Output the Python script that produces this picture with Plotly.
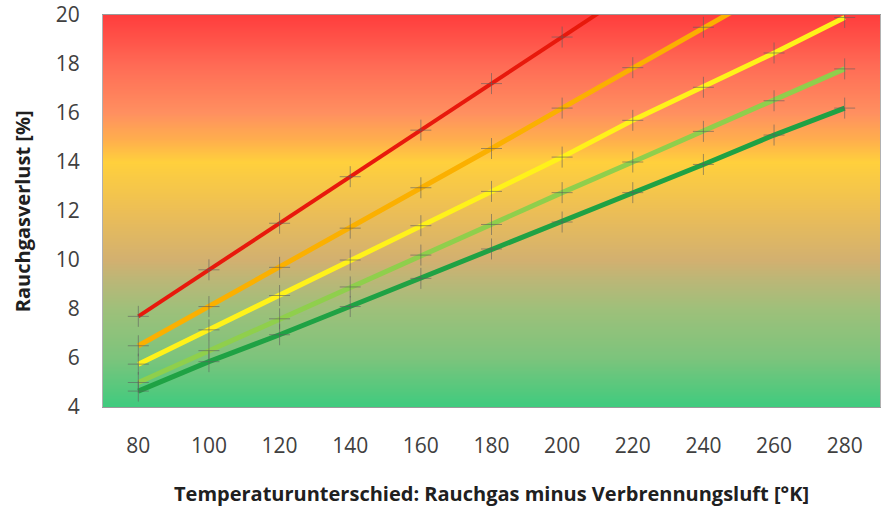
import numpy as np
import plotly.graph_objs as go

# temperature difference flue gas minus combustion air [K]
temp_diff = [80, 100, 120, 140, 160, 180, 200, 220, 240, 260, 280]

# flue gas loss [%] per curve
loss_red = [7.7, 9.6, 11.5, 13.4, 15.3, 17.2, 19.1, 21.0]
loss_orange = [6.5, 8.1, 9.7, 11.3, 12.95, 14.55, 16.2, 17.85, 19.5, 21.1]
loss_yellow = [5.75, 7.15, 8.55, 10.0, 11.4, 12.8, 14.2, 15.7, 17.05, 18.45, 19.9]
loss_lightgreen = [5.0, 6.3, 7.6, 8.9, 10.2, 11.45, 12.75, 14.0, 15.25, 16.5, 17.8]
loss_darkgreen = [4.65, 5.85, 6.95, 8.1, 9.25, 10.45, 11.55, 12.75, 13.9, 15.1, 16.2]

y_ticks = [4, 6, 8, 10, 12, 14, 16, 18, 20]

x_title = 'Temperaturunterschied: Rauchgas minus Verbrennungsluft [°K]'
y_title = 'Rauchgasverlust [%]'

# background colour stops (value on y axis -> colour)
bg_stops = [
    (4.0, '#3ecb7e'),
    (6.0, '#7cc47c'),
    (8.0, '#9ec07a'),
    (9.0, '#b6b878'),
    (10.0, '#d2b070'),
    (12.0, '#ecbe56'),
    (14.0, '#ffd03c'),
    (15.0, '#ffac4e'),
    (16.0, '#ff9060'),
    (18.0, '#ff6a55'),
    (20.0, '#ff3d3d'),
]


def background_trace():
    levels = np.arange(3.0, 21.01, 0.25)
    z = [[v, v] for v in levels]
    scale = [[(v - 4.0) / 16.0, c] for v, c in bg_stops]
    return go.Heatmap(x=[60, 300], y=levels, z=z, zmin=4, zmax=20,
                      colorscale=scale, showscale=False, zsmooth='best',
                      hoverinfo='skip')


def curve(y_values, color, width):
    return go.Scatter(x=temp_diff[:len(y_values)], y=y_values, mode='lines+markers',
                      line={'color': color, 'width': width},
                      marker={'symbol': 'cross-thin', 'size': 15,
                              'line': {'color': 'rgba(95,95,95,0.6)', 'width': 1}},
                      showlegend=False)


def create_layout():
    font = 'Open Sans, Lato, sans-serif'
    grid = 'rgba(115,95,75,0.55)'
    title_font = {'size': 20, 'color': '#202020', 'family': font}
    layout = go.Layout(
        width=884, height=508,
        margin={'l': 103, 'r': 4, 't': 15, 'b': 101, 'autoexpand': False},
        paper_bgcolor='white', plot_bgcolor='white',
        font={'family': font, 'color': '#404040'},
        xaxis={'range': [70, 290], 'tickvals': temp_diff, 'showgrid': False,
               'zeroline': False, 'tickfont': {'size': 21, 'color': '#404040'},
               'ticklabelstandoff': 20, 'showline': True, 'linecolor': '#9a9a9a',
               'mirror': True, 'automargin': False},
        yaxis={'range': [4, 20], 'tickvals': y_ticks, 'showgrid': True,
               'gridcolor': grid, 'gridwidth': 1, 'zeroline': False,
               'tickfont': {'size': 21, 'color': '#404040'},
               'ticklabelstandoff': 18, 'showline': True, 'linecolor': '#b0b0b0',
               'mirror': True, 'automargin': False, 'ticklabeloverflow': 'allow'},
        annotations=[
            {'text': '<b>' + x_title + '</b>', 'xref': 'paper', 'yref': 'paper',
             'x': 0.5, 'y': -0.22, 'yanchor': 'middle', 'showarrow': False,
             'font': title_font},
            {'text': '<b>' + y_title + '</b>', 'xref': 'paper', 'yref': 'paper',
             'x': -0.104, 'y': 0.5, 'xanchor': 'center', 'yanchor': 'middle',
             'textangle': -90, 'showarrow': False, 'font': title_font},
        ],
    )
    return layout


def main():
    data = [background_trace(),
            curve(loss_red, '#e8190c', 4),
            curve(loss_orange, '#fbb000', 5),
            curve(loss_yellow, '#fff21a', 5),
            curve(loss_lightgreen, '#8fcf4c', 5),
            curve(loss_darkgreen, '#1fa244', 5)]
    fig = go.Figure(data=data, layout=create_layout())
    # drop the default 8px page margin so the figure fills the window
    fig.write_html("out.html", config={'displayModeBar': False},
                   post_script="document.body.style.margin = '0';")


if __name__ == "__main__":
    main()
